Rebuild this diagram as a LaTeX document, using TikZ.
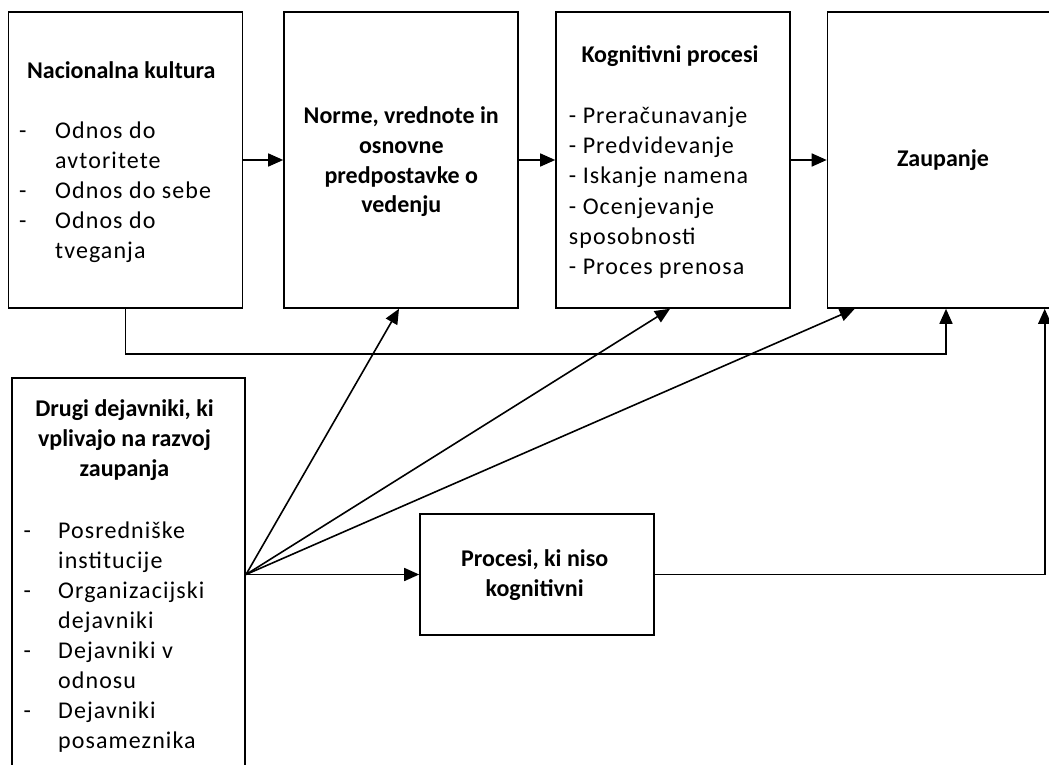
\documentclass[tikz,border=0pt]{standalone}
\usepackage{fontspec}
\setmainfont{Carlito}
\newfontfamily\listfont[LetterSpace=4.5]{Carlito}
\usetikzlibrary{arrows.meta,calc}

\begin{document}
\begin{tikzpicture}[x=1pt,y=-1pt,
  box/.style={draw, line width=1.6pt, rectangle, inner sep=0pt},
  txt/.style={inner sep=0pt, font=\listfont\fontsize{24}{30}\selectfont},
  ttl/.style={inner sep=0pt, font=\fontsize{24}{30}\selectfont\bfseries, anchor=base},
  itm/.style={txt, anchor=base west},
  link/.style={line width=1.6pt, -{Triangle[length=15pt,width=13pt]}},
  wire/.style={line width=1.6pt}]

\useasboundingbox (0,0) rectangle (1049,765);
\fill[white] (0,0) rectangle (1049,765);
\clip (0,0) rectangle (1049,765);

% boxes
\node[box, minimum width=234pt, minimum height=296pt] (b1) at (125.5,160) {};
\node[box, minimum width=234pt, minimum height=296pt] (b2) at (401,160) {};
\node[box, minimum width=234pt, minimum height=296pt] (b3) at (673,160) {};
\node[box, minimum width=233pt, minimum height=296pt] (b4) at (944,160) {};
\node[box, minimum width=233pt, minimum height=422pt] (b5) at (128.7,589) {};
\node[box, minimum width=234pt, minimum height=121pt] (b6) at (537,574.5) {};

% Nacionalna kultura
\node[ttl] (t1) at (121.3,78.3) {Nacionalna kultura};
\node[itm] (d1a) at (19,138.3) {-};
\node[itm] (i1a) at (55,138.3) {Odnos do};
\node[itm] (i1b) at (55,168.3) {avtoritete};
\node[itm] (d1c) at (19,198.3) {-};
\node[itm] (i1c) at (55,198.3) {Odnos do sebe};
\node[itm] (d1d) at (19,228.3) {-};
\node[itm] (i1d) at (55,228.3) {Odnos do};
\node[itm] (i1e) at (55,258.3) {tveganja};

% Norme
\node[ttl] (t2a) at (401.3,124) {Norme, vrednote in};
\node[ttl] (t2b) at (401.3,153.5) {osnovne};
\node[ttl] (t2c) at (401.3,183) {predpostavke o};
\node[ttl] (t2d) at (401.3,212.5) {vedenju};

% Kognitivni procesi
\node[ttl] (t3) at (670,62.3) {Kognitivni procesi};
\node[itm] (i3a) at (568.7,123.3) {- Preračunavanje};
\node[itm] (i3b) at (568.7,153.6) {- Predvidevanje};
\node[itm] (i3c) at (568.7,183.9) {- Iskanje namena};
\node[itm] (i3d) at (568.7,214.2) {- Ocenjevanje};
\node[itm] (i3e) at (568.7,244.5) {sposobnosti};
\node[itm] (i3f) at (568.7,274.8) {- Proces prenosa};

% Zaupanje
\node[ttl] (t4) at (943,166.7) {Zaupanje};

% Drugi dejavniki
\node[ttl] (t5a) at (124.5,416.7) {Drugi dejavniki, ki};
\node[ttl] (t5b) at (124.5,446.7) {vplivajo na razvoj};
\node[ttl] (t5c) at (124.5,476.7) {zaupanja};
\node[itm] (d5a) at (23.5,538.3) {-};
\node[itm] (i5a) at (58,538.3) {Posredniške};
\node[itm] (i5b) at (58,568.3) {institucije};
\node[itm] (d5c) at (23.5,598.3) {-};
\node[itm] (i5c) at (58,598.3) {Organizacijski};
\node[itm] (i5d) at (58,628.3) {dejavniki};
\node[itm] (d5e) at (23.5,658.3) {-};
\node[itm] (i5e) at (58,658.3) {Dejavniki v};
\node[itm] (i5f) at (58,688.3) {odnosu};
\node[itm] (d5g) at (23.5,718.3) {-};
\node[itm] (i5g) at (58,718.3) {Dejavniki};
\node[itm] (i5h) at (58,748.3) {posameznika};

% Procesi, ki niso kognitivni
\node[ttl] (t6a) at (534.7,566.7) {Procesi, ki niso};
\node[ttl] (t6b) at (534.7,596.7) {kognitivni};

% connectors along the top row
\draw[link] (b1.east) -- (b2.west);
\draw[link] (b2.east) -- (b3.west);
\draw[link] (b3.east) -- (b4.west);

% national culture straight to trust
\draw[link] (b1.south) -- ++(0,45) -| ([xshift=2pt]b4.south);

% fan of influences from the other factors
\coordinate (fan) at (b5.east |- b6.west);
\draw[link] (fan) -- ([xshift=-2pt]b2.south);
\draw[link] (fan) -- ([xshift=-3pt]b3.south);
\draw[link] (fan) -- ([xshift=28pt]b4.south west);
\draw[link] (fan) -- (b6.west);

% non-cognitive processes to trust
\draw[link] (b6.east) -| ([xshift=218pt]b4.south west);
\end{tikzpicture}
\end{document}
